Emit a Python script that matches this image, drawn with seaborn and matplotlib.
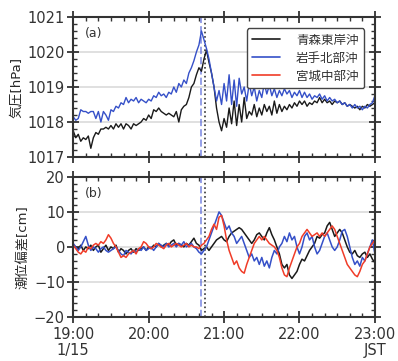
import numpy as np
import pandas as pd
import matplotlib
matplotlib.use("Agg")
import matplotlib.pyplot as plt
from matplotlib.lines import Line2D
from matplotlib.ticker import MultipleLocator
import seaborn as sns

# minutes after 19:00 JST (2-minute sampling)
minutes = list(range(0, 241, 2))

stations = ["青森東岸沖", "岩手北部沖", "宮城中部沖"]
colors = ["#1a1a1a", "#3550c8", "#f03c28"]

# (a) air pressure [hPa]
pres_aomori = [
    1017.75, 1017.55, 1017.65, 1017.45, 1017.55, 1017.5, 1017.6, 1017.25, 1017.55, 1017.7,
    1017.65, 1017.8, 1017.8, 1017.85, 1017.8, 1017.9, 1017.8, 1017.95, 1017.85, 1017.95,
    1017.8, 1017.95, 1017.9, 1017.8, 1017.95, 1017.9, 1017.95, 1018.0, 1018.1, 1018.05,
    1018.2, 1018.1, 1018.35, 1018.3, 1018.4, 1018.3, 1018.25, 1018.2, 1018.25, 1018.2,
    1018.15, 1018.3, 1018.0, 1018.35, 1018.45, 1018.5, 1018.7, 1019.0, 1019.1, 1019.35,
    1019.55, 1019.45, 1019.8, 1020.05, 1019.7, 1019.4, 1019.0, 1018.4, 1018.0, 1017.75,
    1018.1, 1017.85, 1018.4, 1017.95, 1018.6, 1017.9, 1018.5, 1018.0, 1018.7, 1018.1,
    1018.3, 1018.2, 1018.5, 1018.15, 1018.4, 1018.2, 1018.5, 1018.3, 1018.45, 1018.2,
    1018.6, 1018.25, 1018.5, 1018.3, 1018.45, 1018.35, 1018.5, 1018.4, 1018.55, 1018.45,
    1018.6, 1018.5, 1018.6, 1018.45, 1018.55, 1018.5, 1018.6, 1018.55, 1018.7, 1018.55,
    1018.65, 1018.55, 1018.6, 1018.5, 1018.6, 1018.55, 1018.6, 1018.5, 1018.55, 1018.45,
    1018.5, 1018.45, 1018.4, 1018.45, 1018.35, 1018.45, 1018.4, 1018.5, 1018.45, 1018.5,
    1018.55,
]
pres_iwate = [
    1018.15, 1018.05, 1018.1, 1018.35, 1018.3, 1018.3, 1018.25, 1018.3, 1018.3, 1018.1,
    1018.3, 1018.0, 1018.3, 1018.2, 1018.05, 1018.35, 1018.3, 1018.45, 1018.4, 1018.55,
    1018.5, 1018.7, 1018.55, 1018.65, 1018.6, 1018.7, 1018.55, 1018.65, 1018.6, 1018.55,
    1018.65, 1018.6, 1018.75, 1018.7, 1018.85, 1018.75, 1018.8, 1018.7, 1018.85, 1018.8,
    1019.0, 1018.85, 1019.1, 1019.0, 1019.2, 1019.1, 1019.4, 1019.55, 1019.75, 1020.0,
    1020.2, 1020.6, 1020.35, 1020.1, 1019.8, 1019.4, 1019.0, 1018.6, 1018.9, 1018.5,
    1019.1, 1018.6, 1019.35, 1018.5, 1019.2, 1018.45, 1019.25, 1018.8, 1019.0, 1018.6,
    1019.1, 1018.75, 1019.0, 1018.6, 1018.9, 1018.7, 1019.1, 1018.8, 1019.05, 1018.75,
    1018.95, 1018.7, 1018.9, 1018.75, 1018.95, 1018.8, 1018.9, 1018.7, 1018.85, 1018.75,
    1018.9, 1018.7, 1018.85, 1018.7, 1018.8, 1018.65, 1018.75, 1018.7, 1018.8, 1018.65,
    1018.75, 1018.6, 1018.7, 1018.6, 1018.65, 1018.55, 1018.6, 1018.5, 1018.55, 1018.45,
    1018.5, 1018.4, 1018.5, 1018.4, 1018.45, 1018.35, 1018.45, 1018.4, 1018.5, 1018.55,
    1018.75,
]

# (b) sea level deviation [cm]
tide_aomori = [
    0.5, 0, -0.5, 0.5, -1, 0, -0.5, 0.5, -1, 0,
    0.5, -1.5, -0.5, 0.5, -1, 0, -0.5, 0.5, -1.5, -0.5,
    -1, -2, -1, -0.5, -1.5, -0.5, -1, -0.5, 0, -1,
    0, -0.5, 0.5, 0, 1, 0, 0.5, 1, 0.5, 1.5,
    2, 0.5, 1, 0.5, 0, 1, 0.5, 1.5, 2.5, 1,
    0.5, -1, -0.5, 0, -1, 0, 1, 2, 2.5, 3,
    2, 1.5, 3, 4, 4.5, 5, 5.5, 5, 4, 3,
    2, 1, 2, 3.5, 4, 3, 2, 4, 5.5, 3.5,
    2, 0, -2, -5, -6, -5, -8, -9, -8, -7,
    -5, -3.5, -4, -2.5, -1, 0, 1, 3, 2.5, 3.5,
    4, 6, 7, 5, 3, 4, 5, 4, 2, 0,
    -1.5, -2, -1, -2.5, -3, -2, -1.5, -3, -2, -3.5,
    -4.5,
]
tide_iwate = [
    1, 0, -1, 0, 1.5, 3, 0.5, -1, 0, -0.5,
    -1.5, -0.5, 0, -1, -1.5, -1, -0.5, 0, -1, -2,
    -2.5, -1, -1.5, -2, -1, -1.5, -0.5, -1, 0, -1,
    -0.5, 0, -1, 0, 1, 0.5, 0, 1, 0, 0.5,
    1, 0, 1, 0.5, 1.5, 0, 0.5, 1, 0, -0.5,
    -1.5, -2, -1, 0, 2, 4, 6, 8, 10, 9,
    7, 5, 6, 4, 3, 1, 2, 3, 1, -1,
    -3, -2, -4, -3, -5, -3, -5.5, -4, -6, -3,
    -1, -2, 0, 1, 3, 1.5, 4, 2, 3, 0,
    -2, 0, 3, 4, 2, 3, 0, -2, -1, 1,
    3, 4, 2, 0, -1, 0, 2, 4.5, 5, 3,
    0, -3, -5, -4, -5.5, -3, -4, -2, 0, 2,
    -2,
]
tide_miyagi = [
    0.5, -0.5, -1.5, -2, -1, -1.5, 0, -0.5, 0.5, 1,
    0.5, 1.5, 1, 2, 3.5, 2.5, 1, 0, -1.5, -3,
    -2.5, -3, -2, -1.5, -1, -2, -0.5, 0, 1.5, 1,
    0, -0.5, 0, 1, 0.5, 0, -0.5, 0.5, 1, 0,
    0.5, 1, 0.5, 0, 0.5, 1, 0, 0.5, 0, 0,
    -0.5, 0.5, 1, 2, 3, 5, 6.5, 5, 8.5, 9,
    6, 2, -1, -3, -5, -4, -6, -7, -7.5, -5,
    -3, -1, 1, 2, 3, 2, 3, 2, 1, 0.5,
    0, -1, -3, -6, -8, -8.5, -6, -4, -2, 0,
    1, 3, 4, 5, 4, 3, 3.5, 4, 3, 4,
    3, 4, 5, 6, 5, 3, 1, -1, -3, -5,
    -6, -7, -8, -8.5, -7, -5, -4, -2, 0, 1,
    2,
]

xticks = [0, 60, 120, 180, 240]
xticklabels = ["19:00\n1/15", "20:00", "21:00", "22:00", "23:00\nJST"]
arrival_min = [101.5, 104.5]   # blue dashed / black dotted markers (~20:41, ~20:44)

pres_df = pd.DataFrame({
    "t": minutes * 2,
    "v": pres_aomori + pres_iwate,
    "st": [stations[0]] * len(minutes) + [stations[1]] * len(minutes),
})
tide_df = pd.DataFrame({
    "t": minutes * 3,
    "v": tide_aomori + tide_iwate + tide_miyagi,
    "st": [stations[0]] * len(minutes) + [stations[1]] * len(minutes) + [stations[2]] * len(minutes),
})

sns.set_style("ticks")
plt.rcParams["font.family"] = ["DejaVu Sans", "Noto Sans CJK JP"]
plt.rcParams["axes.linewidth"] = 1.5
plt.rcParams["axes.edgecolor"] = "#333333"
plt.rcParams["xtick.color"] = "#333333"
plt.rcParams["ytick.color"] = "#333333"
plt.rcParams["text.color"] = "#333333"

palette = dict(zip(stations, colors))

fig = plt.figure(figsize=(3.98, 3.61), dpi=100)
ax1 = fig.add_axes([0.184, 0.565, 0.758, 0.388])
ax2 = fig.add_axes([0.184, 0.122, 0.758, 0.388])

sns.lineplot(data=pres_df, x="t", y="v", hue="st", palette=palette, ax=ax1,
             linewidth=1.0, legend=False)
sns.lineplot(data=tide_df, x="t", y="v", hue="st", palette=palette, ax=ax2,
             linewidth=1.1, legend=False)

for ax in (ax1, ax2):
    ax.axvline(arrival_min[0], color="#5060d8", linestyle="--", linewidth=1.4, alpha=0.6, zorder=1)
    ax.axvline(arrival_min[1], color="#333333", linestyle=":", linewidth=1.2, zorder=1)
    ax.set_xlim(0, 240)
    ax.set_xticks(xticks)
    ax.xaxis.set_minor_locator(MultipleLocator(10))
    ax.grid(axis="y", color="#dddddd", linewidth=1.3, zorder=0)
    ax.set_axisbelow(True)
    ax.tick_params(which="both", top=True, right=True, labelsize=10.5)
    ax.tick_params(which="major", direction="inout", length=8, width=1.3, pad=2)
    ax.tick_params(which="minor", direction="in", length=3, width=1.0)
    ax.tick_params(axis="x", which="major", pad=3)
    ax.set_xlabel("")

ax1.set_ylim(1017, 1021)
ax1.set_yticks([1017, 1018, 1019, 1020, 1021])
ax1.yaxis.set_minor_locator(MultipleLocator(0.2))
ax1.set_xticklabels([])
ax1.set_ylabel("気圧[hPa]", fontsize=9.5, labelpad=3)
ax1.text(0.04, 0.93, "(a)", transform=ax1.transAxes, fontsize=9, va="top")

ax2.set_ylim(-20, 20)
ax2.set_yticks([-20, -10, 0, 10, 20])
ax2.set_yticklabels(["\u221220", "\u221210", "0", "10", "20"])
ax2.yaxis.set_minor_locator(MultipleLocator(2))
ax2.set_xticklabels(xticklabels, fontsize=10.5, linespacing=1.1)
ax2.set_ylabel("潮位偏差[cm]", fontsize=9.5, labelpad=3)
ax2.text(0.04, 0.93, "(b)", transform=ax2.transAxes, fontsize=9, va="top")

handles = [Line2D([], [], color=c, linewidth=1.2) for c in colors]
leg = ax1.legend(handles, stations, loc="upper right", fontsize=9, frameon=True,
                 fancybox=True, edgecolor="#444444", framealpha=1,
                 handlelength=2.2, handletextpad=1.3, borderpad=0.45, labelspacing=0.4,
                 bbox_to_anchor=(0.985, 0.965))
leg.get_frame().set_linewidth(1.0)

fig.savefig("out.png", dpi=100)
